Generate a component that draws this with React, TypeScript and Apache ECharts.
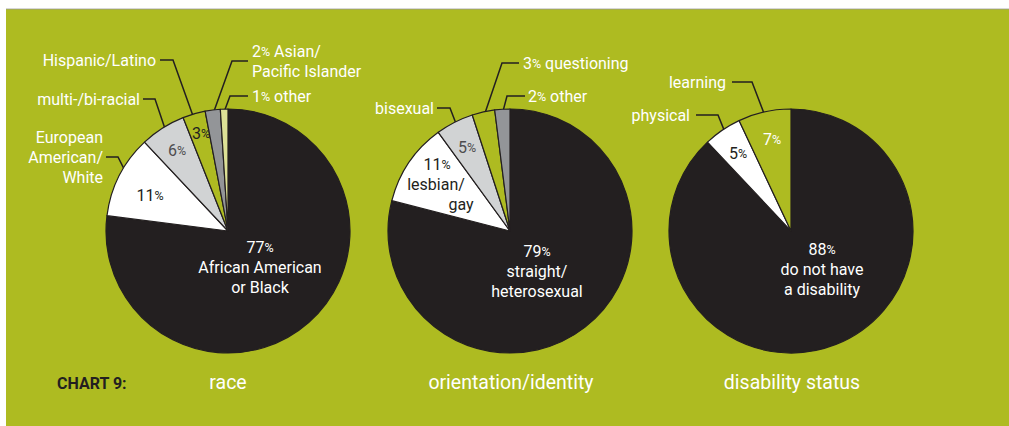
import React, { useEffect, useRef } from "react";
import * as echarts from "echarts";

// ---------- data ----------
const raceNames = [
  "African American\nor Black",
  "European\nAmerican/\nWhite",
  "multi-/bi-racial",
  "Hispanic/Latino",
  "Asian/\nPacific Islander",
  "other",
];
const raceValues = [77, 11, 6, 3, 2, 1];

const orientationNames = ["straight/\nheterosexual", "lesbian/\ngay", "bisexual", "questioning", "other"];
const orientationValues = [79, 11, 5, 3, 2];

const disabilityNames = ["do not have\na disability", "physical", "learning"];
const disabilityValues = [88, 5, 7];

const chartTitles = ["race", "orientation/identity", "disability status"];
const chartLabel = "CHART 9:";

// ---------- styles ----------
const GREEN = "#AEBB21";
const BLACK = "#231F20";
const WHITE = "#FFFFFF";
const LGREY = "#D1D3D4";
const DGREY = "#939598";
const PALE = "#DDE196";
const FONT = "Roboto, 'Liberation Sans', sans-serif";
const FS = 16;
const LH = 20;
const PS = 12.5;

const R = 122;
const CY = 231;
const CXS = [228, 510, 791];
const TITLE_X = [228, 511, 792];

type Outer = { kind: "name" | "pctName"; x: number; y: number; align: "left" | "right"; ex: number; lx: number; depth: number } | null;
type Inner = { kind: "pct" | "pctName"; x: number; y: number; color: string; shifts?: number[] } | null;

const pieDefs = [
  {
    names: raceNames,
    values: raceValues,
    colors: [BLACK, WHITE, LGREY, GREEN, DGREY, PALE],
    inner: [
      { kind: "pctName", x: 260, y: 267, color: WHITE },
      { kind: "pct", x: 150, y: 195, color: BLACK },
      { kind: "pct", x: 177, y: 150, color: "#4D4D4F" },
      { kind: "pct", x: 201, y: 133, color: BLACK },
      null,
      null,
    ] as Inner[],
    outer: [
      null,
      { kind: "name", x: 103, y: 157, align: "right", ex: 118, lx: 106, depth: 0.9 },
      { kind: "name", x: 140, y: 99, align: "right", ex: 155, lx: 143, depth: 0.93 },
      { kind: "name", x: 156, y: 60, align: "right", ex: 173, lx: 160, depth: 0.78 },
      { kind: "pctName", x: 252, y: 61, align: "left", ex: 232, lx: 248, depth: 0.97 },
      { kind: "pctName", x: 252, y: 96, align: "left", ex: 230, lx: 248, depth: 0.98 },
    ] as Outer[],
  },
  {
    names: orientationNames,
    values: orientationValues,
    colors: [BLACK, WHITE, LGREY, GREEN, DGREY],
    inner: [
      { kind: "pctName", x: 537, y: 271, color: WHITE },
      { kind: "pctName", x: 437, y: 184, color: BLACK, shifts: [1, -1, 24] },
      { kind: "pct", x: 467, y: 147, color: "#4D4D4F" },
      null,
      null,
    ] as Inner[],
    outer: [
      null,
      null,
      { kind: "name", x: 434, y: 108, align: "right", ex: 450, lx: 437, depth: 0.93 },
      { kind: "pctName", x: 523, y: 63, align: "left", ex: 502, lx: 519, depth: 0.97 },
      { kind: "pctName", x: 528, y: 96, align: "left", ex: 507, lx: 525, depth: 0.97 },
    ] as Outer[],
  },
  {
    names: disabilityNames,
    values: disabilityValues,
    colors: [BLACK, WHITE, GREEN],
    inner: [
      { kind: "pctName", x: 822, y: 269, color: WHITE },
      { kind: "pct", x: 738, y: 153, color: BLACK },
      { kind: "pct", x: 772, y: 139, color: WHITE },
    ] as Inner[],
    outer: [
      null,
      { kind: "name", x: 690, y: 115, align: "right", ex: 718, lx: 696, depth: 0.94 },
      { kind: "name", x: 726, y: 82, align: "right", ex: 752, lx: 732, depth: 0.95 },
    ] as Outer[],
  },
];

function pctText(v: number) {
  return `${v}{p|%}`;
}

function innerLabel(v: number, name: string, inn: NonNullable<Inner>) {
  const rich: any = { p: { fontSize: PS, fontFamily: FONT, color: inn.color, lineHeight: LH } };
  if (inn.kind === "pct") return { formatter: pctText(v), rich };
  const nameLines = name.split("\n");
  const shifts = inn.shifts || [];
  const lines = nameLines.map((ln, k) => {
    const s = shifts[k + 1] || 0;
    if (!s) return ln;
    const key = `s${k}`;
    rich[key] = {
      fontSize: FS,
      fontFamily: FONT,
      color: inn.color,
      lineHeight: LH,
      padding: s > 0 ? [0, 0, 0, 2 * s] : [0, -2 * s, 0, 0],
    };
    return `{${key}|${ln}}`;
  });
  return { formatter: `${pctText(v)}\n${lines.join("\n")}`, rich };
}

function buildOption() {
  const series: any[] = [];
  pieDefs.forEach((def, pi) => {
    const cx = CXS[pi];
    // main pie with inner labels
    series.push({
      type: "pie",
      center: [cx, CY],
      radius: [0, R],
      startAngle: 90,
      clockwise: true,
      avoidLabelOverlap: false,
      silent: true,
      emphasis: { disabled: true },
      itemStyle: { borderColor: BLACK, borderWidth: 1.2 },
      label: {
        show: true,
        position: "inside",
        fontFamily: FONT,
        fontSize: FS,
        lineHeight: LH,
        align: "center",
      },
      labelLine: { show: false },
      labelLayout: (p: any) => {
        const o = def.inner[p.dataIndex];
        if (!o) return {};
        return { x: o.x, y: o.y, align: "center", verticalAlign: "middle" };
      },
      data: def.values.map((v, i) => {
        const inn = def.inner[i];
        return {
          value: v,
          name: def.names[i],
          itemStyle: { color: def.colors[i] },
          label: inn
            ? { show: true, color: inn.color, ...innerLabel(v, def.names[i], inn) }
            : { show: false },
        };
      }),
    });
    // overlay pie for outside labels with leader lines
    series.push({
      type: "pie",
      center: [cx, CY],
      radius: [0, R],
      startAngle: 90,
      clockwise: true,
      avoidLabelOverlap: false,
      silent: true,
      emphasis: { disabled: true },
      itemStyle: { color: "rgba(0,0,0,0)", borderWidth: 0 },
      label: {
        show: true,
        position: "outside",
        color: WHITE,
        fontFamily: FONT,
        fontSize: FS,
        lineHeight: LH,
        rich: { p: { fontSize: PS, fontFamily: FONT, color: WHITE, lineHeight: LH } },
      },
      labelLine: { show: true, length: 10, length2: 10, lineStyle: { color: BLACK, width: 1.5 } },
      labelLayout: (p: any) => {
        const o = def.outer[p.dataIndex];
        if (!o || !p.labelLinePoints) return {};
        const p0 = p.labelLinePoints[0];
        const dx = p0[0] - cx;
        const dy = p0[1] - CY;
        const d = Math.hypot(dx, dy) || 1;
        const a = [cx + (dx / d) * R * o.depth, CY + (dy / d) * R * o.depth];
        return {
          x: o.x,
          y: o.y,
          align: o.align,
          verticalAlign: "middle",
          labelLinePoints: [a, [o.ex, o.y], [o.lx, o.y]],
        };
      },
      data: def.values.map((v, i) => {
        const o = def.outer[i];
        return {
          value: v,
          name: def.names[i],
          label: o
            ? {
                show: true,
                align: o.align,
                formatter: o.kind === "name" ? def.names[i] : `${pctText(v)} ${def.names[i]}`,
              }
            : { show: false },
          labelLine: { show: !!o },
        };
      }),
    });
  });

  const graphic: any[] = [
    { type: "rect", z: -10, shape: { x: 6, y: 9, width: 1003, height: 417 }, style: { fill: GREEN } },
    { type: "line", z: -9, shape: { x1: 6, y1: 9, x2: 1009, y2: 9 }, style: { stroke: "#9A9A9A", lineWidth: 0.8 } },
    {
      type: "text",
      style: {
        text: chartLabel,
        x: 57,
        y: 383,
        fill: BLACK,
        fontFamily: FONT,
        fontSize: 16,
        fontWeight: "bold",
        align: "left",
        verticalAlign: "middle",
      },
    },
    ...chartTitles.map((t, i) => ({
      type: "text",
      style: {
        text: t,
        x: TITLE_X[i],
        y: 382,
        fill: WHITE,
        fontFamily: FONT,
        fontSize: 19.5,
        align: "center",
        verticalAlign: "middle",
      },
    })),
  ];

  return {
    animation: false,
    backgroundColor: "#FFFFFF",
    graphic,
    series,
  };
}

export default function App() {
  const ref = useRef<HTMLDivElement>(null);
  useEffect(() => {
    if (!ref.current) return;
    const chart = echarts.init(ref.current, undefined, { renderer: "svg" });
    chart.setOption(buildOption() as any);
    return () => chart.dispose();
  }, []);
  return (
    <div
      ref={ref}
      style={{ position: "absolute", left: 0, top: 0, width: 1009, height: 426 }}
    />
  );
}
